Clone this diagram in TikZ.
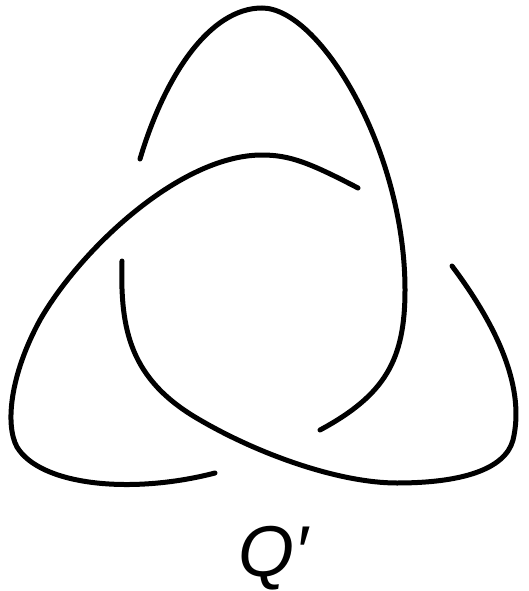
\documentclass[tikz,border=0pt]{standalone}
\usepackage{fontspec}
\setmainfont{Liberation Sans}
\begin{document}
\begin{tikzpicture}[x=1pt, y=-1pt, strand/.style={line width=5pt, line cap=round}]
    \useasboundingbox (0, 0) rectangle (529, 591);

    % top lobe
    \draw[strand] (140, 159) .. controls (165, 75) and (210, 8) .. (262, 8)
                  .. controls (320, 8) and (405, 150) .. (405, 290)
                  .. controls (405, 360) and (385, 395) .. (320, 430);

    % left lobe
    \draw[strand] (358, 188) .. controls (310, 163) and (290, 155) .. (262, 155)
                  .. controls (180, 155) and (80, 250) .. (40, 320)
                  .. controls (10, 375) and (5, 425) .. (17, 447)
                  .. controls (40, 485) and (130, 495) .. (215, 473);

    % right lobe
    \draw[strand] (122, 261) .. controls (120, 330) and (130, 380) .. (200, 420)
                  .. controls (260, 455) and (340, 483) .. (397, 483)
                  .. controls (460, 483) and (505, 470) .. (513, 440)
                  .. controls (525, 390) and (500, 330) .. (452, 266);

    \node (knotname) at (273, 558) {\fontsize{72}{84}\selectfont\itshape Q′};
\end{tikzpicture}
\end{document}
